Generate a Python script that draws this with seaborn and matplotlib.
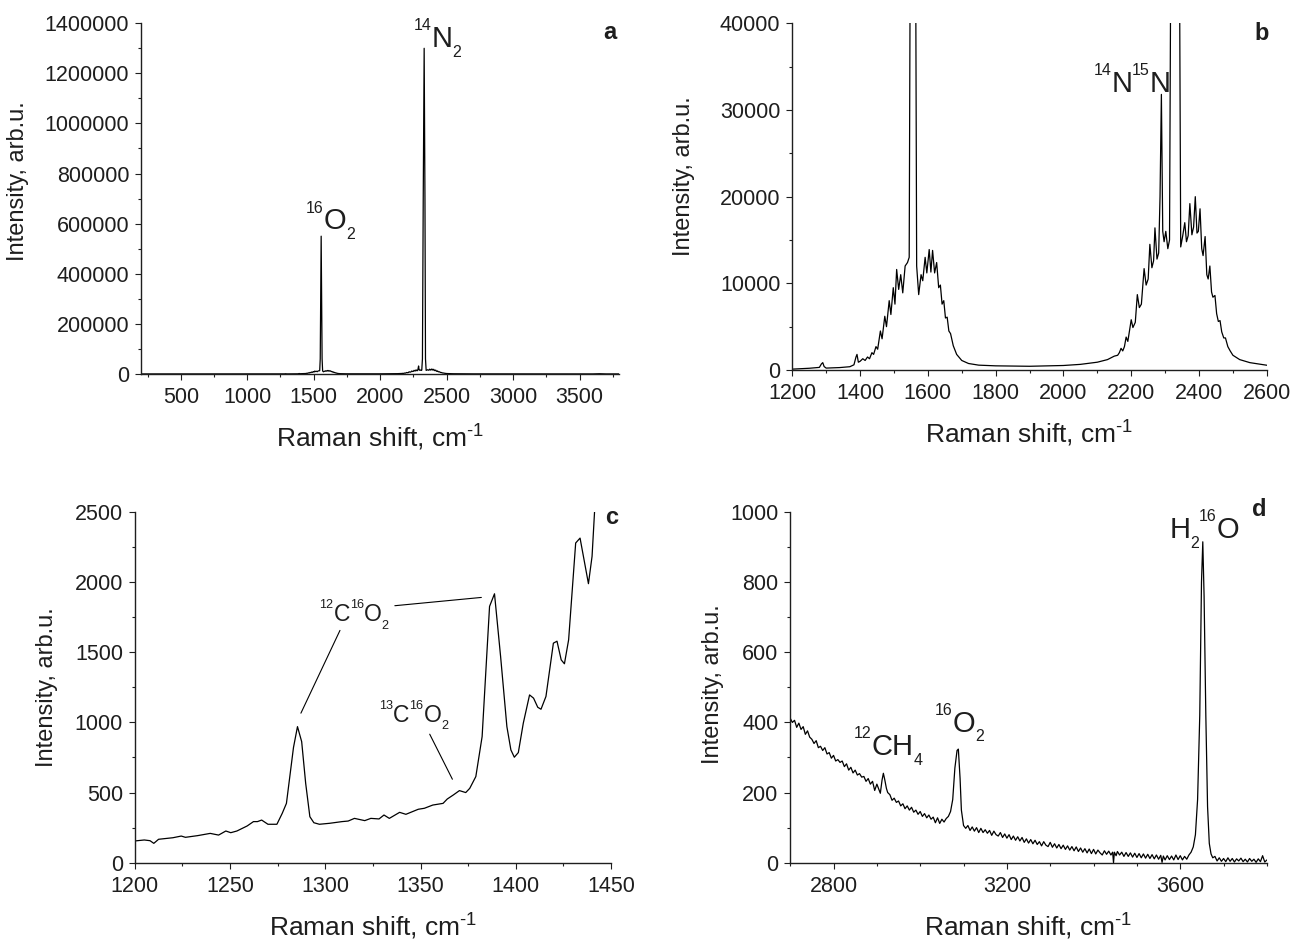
import numpy as np
import pandas as pd
import seaborn as sns
import matplotlib.pyplot as plt
from matplotlib.ticker import MultipleLocator
from matplotlib.transforms import offset_copy

# Raman spectrum of air, wide range (used for panels a and b)
ab_shift = [
    200, 600, 1000, 1200, 1250, 1280, 1286, 1290, 1294, 1300,
    1340, 1370, 1382, 1388, 1391, 1395, 1400, 1408, 1415, 1422,
    1428, 1435, 1440, 1447, 1452, 1460, 1465, 1473, 1478, 1486,
    1491, 1498, 1503, 1508, 1514, 1520, 1526, 1533, 1540, 1545,
    1549, 1553, 1556, 1559, 1563, 1567, 1573, 1580, 1585, 1592,
    1597, 1604, 1609, 1614, 1620, 1626, 1632, 1637, 1642, 1647,
    1652, 1657, 1662, 1667, 1675, 1685, 1700, 1720, 1750, 1800,
    1900, 2000, 2050, 2100, 2130, 2150, 2160, 2165, 2170, 2175,
    2180, 2185, 2190, 2200, 2205, 2212, 2218, 2224, 2230, 2238,
    2244, 2250, 2255, 2261, 2266, 2270, 2276, 2281, 2285, 2289,
    2293, 2297, 2302, 2308, 2313, 2318, 2324, 2331, 2337, 2341,
    2346, 2352, 2358, 2363, 2368, 2373, 2379, 2384, 2389, 2394,
    2398, 2403, 2408, 2412, 2418, 2423, 2427, 2432, 2437, 2441,
    2447, 2452, 2457, 2462, 2467, 2473, 2478, 2485, 2492, 2500,
    2520, 2550, 2600, 2700, 3000, 3300, 3600, 3650, 3700, 3800]
ab_int = [
    120, 110, 100, 100, 200, 300, 700, 850, 400, 220,
    280, 380, 600, 1500, 1800, 900, 1000, 1300, 1100, 1500,
    1300, 2000, 1800, 2700, 2400, 4500, 3600, 6200, 5000, 8000,
    6400, 9500, 7600, 11600, 9300, 11000, 8900, 12000, 12400, 13000,
    60000, 350000, 550000, 350000, 60000, 12000, 8700, 11000, 10300, 13000,
    11200, 13900, 11300, 13800, 11200, 12400, 9500, 9800, 7600, 8000,
    6000, 6100, 4500, 4200, 2800, 1800, 1100, 750, 560, 480,
    430, 520, 650, 900, 1200, 1600, 1700, 2000, 2500, 2200,
    2700, 3800, 3300, 5800, 4900, 5500, 8700, 7200, 7600, 11700,
    9800, 10500, 14500, 11800, 12600, 16400, 12800, 13500, 20000, 31800,
    16000, 14800, 16000, 14000, 15000, 60000, 700000, 1300000, 700000, 60000,
    14200, 15500, 17000, 14800, 15500, 19200, 15600, 16500, 20000, 15800,
    16000, 18600, 14000, 13200, 15400, 11000, 10500, 12000, 9000, 8400,
    8600, 6500, 5600, 5700, 4400, 3700, 3700, 2700, 2200, 1700,
    1200, 850, 550, 350, 200, 150, 130, 900, 110, 100]

# CO2 region (panel c)
c_shift = [
    1200, 1205, 1208, 1210, 1212.5, 1220, 1224.4, 1226.6, 1233, 1239.6,
    1244, 1247.8, 1250.4, 1253.6, 1259, 1262.3, 1264.4, 1266.6, 1269.9, 1274.6,
    1277.4, 1279.6, 1283.3, 1285.4, 1287.6, 1289.7, 1291.9, 1294, 1296.9, 1302.3,
    1308.8, 1312, 1315.3, 1320.7, 1323.9, 1328.2, 1330.8, 1333.6, 1339, 1342.3,
    1348.8, 1352, 1356.4, 1361.8, 1364, 1367.2, 1370.4, 1373.7, 1375.8, 1379,
    1382.3, 1386.2, 1388.8, 1392, 1395.3, 1397.4, 1399.2, 1401.3, 1403.9, 1407.2,
    1409.3, 1411.5, 1413.2, 1415.8, 1419.7, 1421.6, 1423.8, 1425.5, 1427.7, 1431.4,
    1433.7, 1438.1, 1440, 1441.3]
c_int = [
    155, 162, 157, 138, 167, 178, 190, 181, 193, 209,
    197, 226, 214, 226, 262, 293, 293, 304, 274, 274,
    352, 423, 821, 970, 863, 566, 328, 285, 274, 281,
    293, 297, 316, 300, 316, 312, 340, 316, 359, 345,
    381, 388, 411, 423, 454, 483, 514, 500, 530, 614,
    899, 1827, 1917, 1470, 970, 804, 752, 785, 994, 1196,
    1173, 1108, 1094, 1185, 1565, 1579, 1446, 1418, 1589, 2279,
    2314, 1989, 2184, 2500]

# CH4 / O2 / H2O region (panel d)
d_shift = [
    2700, 2705, 2710, 2715, 2720, 2725, 2730, 2735, 2740, 2745,
    2750, 2755, 2760, 2765, 2770, 2775, 2780, 2785, 2790, 2795,
    2800, 2805, 2810, 2815, 2820, 2825, 2830, 2835, 2840, 2845,
    2850, 2855, 2860, 2865, 2870, 2875, 2880, 2885, 2890, 2895,
    2900, 2905, 2908, 2912, 2915, 2918, 2922, 2925, 2930, 2935,
    2940, 2945, 2950, 2955, 2960, 2965, 2970, 2975, 2980, 2985,
    2990, 2995, 3000, 3005, 3010, 3015, 3020, 3025, 3030, 3035,
    3040, 3045, 3050, 3055, 3060, 3065, 3070, 3075, 3080, 3085,
    3088, 3092, 3095, 3100, 3105, 3110, 3115, 3120, 3125, 3130,
    3135, 3140, 3145, 3150, 3155, 3160, 3165, 3170, 3175, 3180,
    3185, 3190, 3195, 3200, 3205, 3210, 3215, 3220, 3225, 3230,
    3235, 3240, 3245, 3250, 3255, 3260, 3265, 3270, 3275, 3280,
    3285, 3290, 3295, 3300, 3305, 3310, 3315, 3320, 3325, 3330,
    3335, 3340, 3345, 3350, 3355, 3360, 3365, 3370, 3375, 3380,
    3385, 3390, 3395, 3400, 3405, 3410, 3415, 3420, 3425, 3430,
    3435, 3440, 3444, 3446, 3448, 3452, 3455, 3460, 3465, 3470,
    3475, 3480, 3485, 3490, 3495, 3500, 3505, 3510, 3515, 3520,
    3525, 3530, 3535, 3540, 3545, 3550, 3555, 3558, 3561, 3565,
    3570, 3575, 3580, 3585, 3590, 3595, 3600, 3605, 3610, 3615,
    3620, 3625, 3630, 3635, 3640, 3645, 3649, 3652, 3655, 3659,
    3663, 3667, 3671, 3675, 3680, 3685, 3690, 3695, 3700, 3705,
    3710, 3715, 3720, 3725, 3730, 3735, 3740, 3745, 3750, 3755,
    3760, 3765, 3770, 3775, 3780, 3785, 3790, 3795, 3800]
d_int = [
    412, 400, 406, 386, 398, 380, 388, 366, 376, 358,
    352, 340, 348, 328, 332, 320, 328, 310, 314, 298,
    306, 290, 294, 286, 290, 274, 282, 264, 272, 256,
    264, 250, 254, 244, 246, 232, 240, 224, 232, 206,
    224, 208, 198, 236, 255, 238, 212, 200, 194, 178,
    184, 172, 176, 162, 168, 154, 162, 150, 158, 144,
    150, 138, 146, 132, 140, 128, 136, 124, 130, 114,
    128, 112, 124, 116, 126, 132, 146, 180, 270, 320,
    324, 240, 150, 106, 98, 106, 92, 102, 90, 100,
    86, 98, 86, 94, 84, 92, 78, 90, 80, 76,
    86, 72, 82, 70, 80, 66, 76, 64, 74, 62,
    72, 58, 68, 56, 66, 54, 64, 52, 60, 48,
    60, 50, 46, 58, 44, 54, 42, 52, 40, 50,
    38, 48, 36, 46, 34, 45, 32, 42, 30, 40,
    28, 39, 26, 38, 25, 36, 28, 22, 34, 24,
    33, 22, 30, 0, 30, 20, 32, 22, 30, 18,
    29, 18, 28, 16, 27, 15, 26, 14, 25, 13,
    24, 12, 23, 11, 22, 10, 21, 1, 19, 8,
    20, 9, 19, 8, 22, 9, 20, 8, 18, 10,
    22, 30, 45, 80, 180, 420, 800, 915, 760, 420,
    160, 55, 25, 14, 18, 5, 14, 4, 12, 3,
    14, 4, 12, 2, 11, 5, 13, 3, 10, 2,
    12, 4, 10, 1, 11, 3, 20, 2, 8]

air = pd.DataFrame({'shift': ab_shift, 'intensity': ab_int})
co2 = pd.DataFrame({'shift': c_shift, 'intensity': c_int})
high = pd.DataFrame({'shift': d_shift, 'intensity': d_int})

ink = '#1e1e1e'
sns.set_theme(style="ticks")
plt.rcParams['font.family'] = ['Liberation Sans', 'DejaVu Sans']
plt.rcParams.update({
    'mathtext.fontset': 'custom',
    'mathtext.rm': 'Liberation Sans',
    'mathtext.it': 'Liberation Sans:italic',
    'mathtext.bf': 'Liberation Sans:bold',
    'mathtext.default': 'regular',
    'text.color': ink, 'axes.labelcolor': ink,
    'xtick.color': ink, 'ytick.color': ink, 'axes.edgecolor': ink,
})

fig = plt.figure(figsize=(12.92, 9.41), dpi=100)
ax_a = fig.add_axes([0.1091, 0.6026, 0.3703, 0.3727])
ax_b = fig.add_axes([0.6132, 0.6068, 0.3673, 0.3684])
ax_c = fig.add_axes([0.1043, 0.0832, 0.3687, 0.3727])
ax_d = fig.add_axes([0.6116, 0.0832, 0.3690, 0.3727])
renderer = fig.canvas.get_renderer()


def style(ax, xlim, ylim, xstep, ystep, ylab_x, ylab_y, tag, tag_xy):
    ax.set_xlim(*xlim)
    ax.set_ylim(*ylim)
    ax.xaxis.set_major_locator(MultipleLocator(xstep[0]))
    ax.xaxis.set_minor_locator(MultipleLocator(xstep[1]))
    ax.yaxis.set_major_locator(MultipleLocator(ystep[0]))
    ax.yaxis.set_minor_locator(MultipleLocator(ystep[1]))
    ax.ticklabel_format(axis='y', style='plain', useOffset=False)
    sns.despine(ax=ax)
    for s in ['left', 'bottom']:
        ax.spines[s].set_linewidth(1.0)
    ax.tick_params(which='major', direction='out', length=4.5, width=0.8,
                   labelsize=15.5)
    ax.tick_params(axis='x', which='major', pad=5)
    ax.tick_params(axis='y', which='major', pad=4)
    ax.tick_params(which='minor', direction='out', length=2.5, width=0.8)
    ax.set_xlabel(r'Raman shift, cm$^{\text{-1}}$', fontsize=19)
    ax.set_ylabel('Intensity, arb.u.', fontsize=17)
    ax.xaxis.set_label_coords(0.5, -0.14)
    ax.yaxis.set_label_coords(ylab_x, ylab_y)
    ax.text(tag_xy[0], tag_xy[1], tag, transform=ax.transAxes, ha='right',
            va='top', fontsize=17, fontweight='bold')


def formula(ax, x, y, parts, size):
    # chemical label built piece by piece: small isotope/index digits
    small = size * 0.55
    dx = 0.0
    for txt, kind in parts:
        if kind == 'sup':
            fs, dy = small, size * 0.57
        elif kind == 'sub':
            fs, dy = small, -size * 0.33
        else:
            fs, dy = size, 0
        tr = offset_copy(ax.transData, fig=fig, x=dx, y=dy, units='points')
        t = ax.text(x, y, txt, fontsize=fs, ha='left', va='baseline',
                    transform=tr)
        dx += t.get_window_extent(renderer).width * 72 / fig.dpi


line_kw = dict(x='shift', y='intensity', color='black', lw=0.9,
               sort=False, estimator=None)

# a: full spectrum
sns.lineplot(data=air, ax=ax_a, **line_kw)
style(ax_a, (200, 3800), (0, 1400000), (500, 250), (200000, 100000),
      -0.234, 0.55, 'a', (0.995, 1.005))
formula(ax_a, 1440, 577000, [('16', 'sup'), ('O', 'n'), ('2', 'sub')], 21)
formula(ax_a, 2250, 1305000, [('14', 'sup'), ('N', 'n'), ('2', 'sub')], 21)

# b: zoom on the wings
sns.lineplot(data=air, ax=ax_b, **line_kw)
style(ax_b, (1200, 2600), (0, 40000), (200, 100), (10000, 5000),
      -0.205, 0.56, 'b', (1.004, 1.005))
formula(ax_b, 2088, 32100,
        [('14', 'sup'), ('N', 'n'), ('15', 'sup'), ('N', 'n')], 21)

# c: CO2 bands
sns.lineplot(data=co2, ax=ax_c, **line_kw)
style(ax_c, (1200, 1450), (0, 2500), (50, 25), (500, 250),
      -0.161, 0.50, 'c', (1.015, 1.016))
co2_parts = [('C', 'n'), ('16', 'sup'), ('O', 'n'), ('2', 'sub')]
formula(ax_c, 1296.9, 1720, [('12', 'sup')] + co2_parts, 16.5)
formula(ax_c, 1328.2, 1006, [('13', 'sup')] + co2_parts, 16.5)
lead = dict(arrowstyle='-', lw=0.8, color='black', shrinkA=0, shrinkB=0)
ax_c.annotate('', xy=(1287.2, 1066), xytext=(1307.7, 1656), arrowprops=lead)
ax_c.annotate('', xy=(1381.9, 1891), xytext=(1336.5, 1832), arrowprops=lead)
ax_c.annotate('', xy=(1366.7, 595), xytext=(1354.8, 916), arrowprops=lead)

# d: high shift region
sns.lineplot(data=high, ax=ax_d, **line_kw)
style(ax_d, (2700, 3800), (0, 1000), (400, 100), (200, 100),
      -0.138, 0.51, 'd', (1.0, 1.04))
formula(ax_d, 2847, 307, [('12', 'sup'), ('CH', 'n'), ('4', 'sub')], 21)
formula(ax_d, 3033, 374, [('16', 'sup'), ('O', 'n'), ('2', 'sub')], 21)
formula(ax_d, 3575, 926, [('H', 'n'), ('2', 'sub'), ('16', 'sup'), ('O', 'n')], 21)

fig.savefig('out.png', dpi=100)
